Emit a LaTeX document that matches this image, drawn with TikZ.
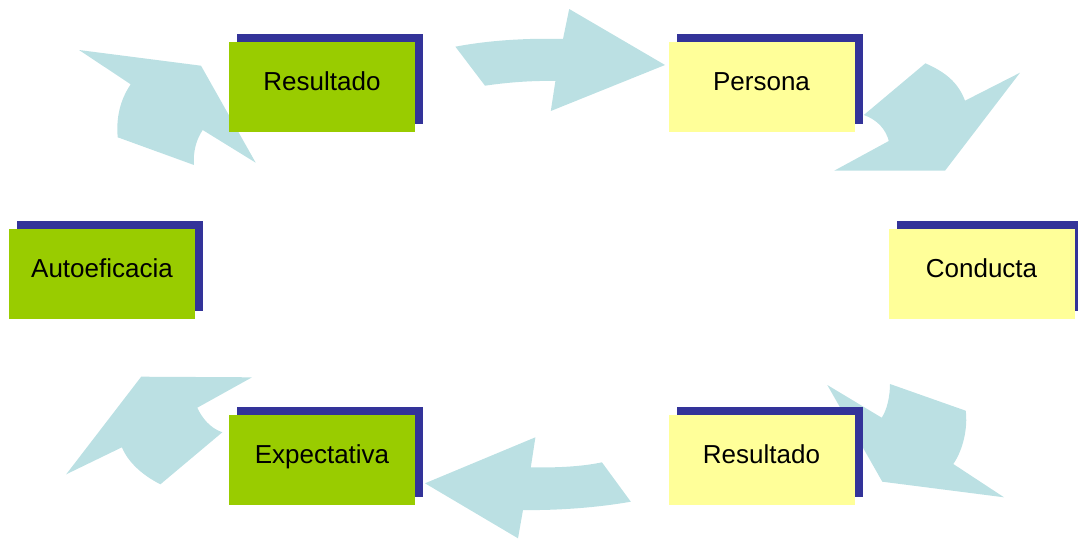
\documentclass[tikz,border=0pt]{standalone}
\usepackage{fontspec}
\setmainfont{Liberation Sans}
\usetikzlibrary{shadows}
\definecolor{arrowblue}{HTML}{BBE0E3}
\definecolor{boxgreen}{HTML}{99CC00}
\definecolor{boxyellow}{HTML}{FFFF99}
\definecolor{shadowblue}{HTML}{333399}
\begin{document}
\begin{tikzpicture}[x=1pt,y=-1pt,
  box/.style={rectangle, minimum width=186pt, inner sep=0pt,
    text height=48pt, text depth=42pt, font=\fontsize{26}{30}\selectfont,
    drop shadow={shadow xshift=8pt, shadow yshift=8pt, fill=shadowblue, opacity=1}},
  greenbox/.style={box, fill=boxgreen},
  yellowbox/.style={box, fill=boxyellow},
  blockarrow/.style={fill=arrowblue, draw=none}]
\useasboundingbox (0,0) rectangle (1078,538);
% arrow: Autoeficacia -> Resultado
\fill[blockarrow] (79,50) -- (201,65.7) -- (255.7,162.7) -- (202.7,130)
  .. controls (196,140) and (193,152) .. (194,165) -- (117.7,137.3)
  .. controls (116,118) and (120,100) .. (130.7,84.3) -- cycle;
% arrow: Resultado -> Persona
\fill[blockarrow] (455.4,46.7) .. controls (490,40) and (530,38) .. (563,39)
  -- (569.2,9) -- (665,65) -- (550.8,111) -- (555.4,81)
  .. controls (535,80.5) and (510,82) .. (485,85.7) -- cycle;
% arrow: Persona -> Conducta
\fill[blockarrow] (925.4,63.3) .. controls (945,72) and (958,82) .. (965,100.7)
  -- (1020,72.7) -- (945,170.7) -- (834.2,170.7) -- (888.8,141)
  .. controls (886,130) and (878,120) .. (863.8,115) -- cycle;
% arrow: Conducta -> Resultado
\fill[blockarrow] (827.3,385) -- (881.7,417.7)
  .. controls (887,410) and (890,396) .. (890,384) -- (965.7,410.7)
  .. controls (968,428) and (963,450) .. (953.3,464) -- (1004,497.3)
  -- (882.3,481.7) -- cycle;
% arrow: Resultado -> Expectativa
\fill[blockarrow] (425,483.3) -- (535.4,437.3) -- (530.8,467.3)
  .. controls (560,468) and (585,466) .. (601.9,462.3) -- (630.8,501.7)
  .. controls (595,508) and (555,510.5) .. (523,510) -- (518,538.3) -- cycle;
% arrow: Expectativa -> Autoeficacia
\fill[blockarrow] (141.2,376.7) -- (252,377.3) -- (197.3,407.7)
  .. controls (202,418) and (210,428) .. (222.3,432.3) -- (160.4,484.3)
  .. controls (142,475) and (128,462) .. (121.9,447.3) -- (66.2,474.3) -- cycle;
% boxes
\node[greenbox] (resultadoA) at (322,87) {Resultado};
\node[yellowbox] (persona) at (761.5,87) {Persona};
\node[greenbox] (autoeficacia) at (102,274) {Autoeficacia};
\node[yellowbox] (conducta) at (981.5,274) {Conducta};
\node[yellowbox] (resultadoB) at (761.5,460) {Resultado};
\node[greenbox] (expectativa) at (322,460) {Expectativa};
\end{tikzpicture}
\end{document}
